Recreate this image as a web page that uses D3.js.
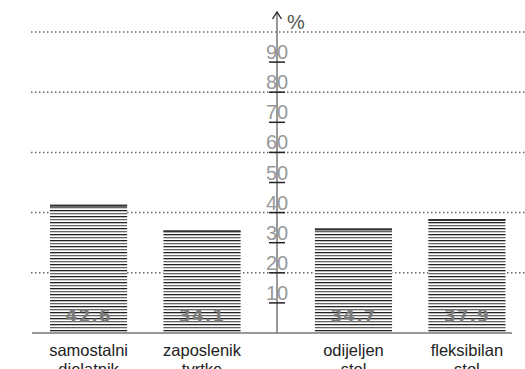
<html>
<head>
<script src="https://d3js.org/d3.v7.min.js"></script>
<style>
body { margin: 0; background: #fff; }
svg { display: block; }
.cat { font-family: "Liberation Sans", Arial, sans-serif; font-size: 16.5px; fill: #222; }
.val { font-family: "DejaVu Sans", sans-serif; font-size: 17px; font-weight: bold; fill: #7a7a7a; letter-spacing: 1px; }
.tick-label { font-family: "Liberation Sans Narrow", "Liberation Sans", sans-serif; font-size: 20px; fill: #999; }
</style>
</head>
<body>
<div id="vis_container"></div>
<script>
// data
var categories = [["samostalni", "djelatnik"], ["zaposlenik", "tvrtke"], ["odijeljen", "stol"], ["fleksibilan", "stol"]];
var values = [42.6, 34.1, 34.7, 37.9];
var valueLabels = ["42.6", "34.1", "34.7", "37.9"];
var tickValues = [10, 20, 30, 40, 50, 60, 70, 80, 90];
var gridValues = [20, 40, 60, 80, 100];

var width = 525, height = 369;
var axisX = 277, gap = 38;

var svg = d3.select("#vis_container").append("svg")
    .attr("width", width)
    .attr("height", height);

var y = d3.scaleLinear().domain([0, 100]).range([333, 32]);
var x = d3.scaleBand()
    .domain(d3.range(categories.length))
    .range([50, 467.5])
    .paddingInner(0.32)
    .paddingOuter(0);

function barX(i) { return x(i) + (i >= 2 ? gap : 0); }

// hatch pattern for the bars
var defs = svg.append("defs");
var pat = defs.append("pattern")
    .attr("id", "hatch")
    .attr("patternUnits", "userSpaceOnUse")
    .attr("width", 8).attr("height", 6);
pat.append("rect").attr("width", 8).attr("height", 6).attr("fill", "#fff");
pat.append("rect").attr("y", 0).attr("width", 8).attr("height", 1.3).attr("fill", "#222");
pat.append("rect").attr("y", 3).attr("width", 8).attr("height", 1.3).attr("fill", "#666");

// dotted gridlines
svg.selectAll("line.grid")
    .data(gridValues)
    .enter().append("line")
    .attr("class", "grid")
    .attr("x1", 31).attr("x2", width)
    .attr("y1", function(d) { return y(d); })
    .attr("y2", function(d) { return y(d); })
    .attr("stroke", "#666")
    .attr("stroke-width", 1.5)
    .attr("stroke-dasharray", "1.5,2.5");

// bars
var bars = svg.selectAll("g.bar")
    .data(values)
    .enter().append("g")
    .attr("class", "bar");

bars.append("rect")
    .attr("x", function(d, i) { return barX(i); })
    .attr("y", function(d) { return y(d); })
    .attr("width", x.bandwidth())
    .attr("height", function(d) { return y(0) - y(d); })
    .attr("fill", "url(#hatch)");

bars.append("line")
    .attr("x1", function(d, i) { return barX(i); })
    .attr("x2", function(d, i) { return barX(i) + x.bandwidth(); })
    .attr("y1", function(d) { return y(d) + 1; })
    .attr("y2", function(d) { return y(d) + 1; })
    .attr("stroke", "#333")
    .attr("stroke-width", 2);

bars.append("text")
    .attr("class", "val")
    .attr("x", function(d, i) { return barX(i) + x.bandwidth() / 2; })
    .attr("y", 322)
    .attr("text-anchor", "middle")
    .text(function(d, i) { return valueLabels[i]; });

// category labels (second line runs off the bottom)
categories.forEach(function(c, i) {
    var t = svg.append("text")
        .attr("class", "cat")
        .attr("text-anchor", "middle")
        .attr("x", barX(i) + x.bandwidth() / 2)
        .attr("y", 356);
    t.append("tspan").text(c[0]);
    t.append("tspan")
        .attr("x", barX(i) + x.bandwidth() / 2)
        .attr("dy", 18.5)
        .text(c[1]);
});

// baseline
svg.append("line")
    .attr("x1", 32).attr("x2", 512)
    .attr("y1", y(0)).attr("y2", y(0))
    .attr("stroke", "#777")
    .attr("stroke-width", 1.5);

// vertical axis with arrow
svg.append("line")
    .attr("x1", axisX).attr("x2", axisX)
    .attr("y1", 12).attr("y2", y(0))
    .attr("stroke", "#777")
    .attr("stroke-width", 1.5);

svg.append("path")
    .attr("d", "M" + (axisX - 4.5) + ",19L" + axisX + ",12L" + (axisX + 4.5) + ",19")
    .attr("fill", "none")
    .attr("stroke", "#222")
    .attr("stroke-width", 1.3);

svg.append("text")
    .attr("x", 287).attr("y", 29)
    .attr("font-family", "Liberation Sans, Arial, sans-serif")
    .attr("font-size", 20)
    .attr("fill", "#555")
    .text("%");

// ticks: short line under each label
var ticks = svg.selectAll("g.tick")
    .data(tickValues)
    .enter().append("g")
    .attr("class", "tick")
    .attr("transform", function(d) { return "translate(" + axisX + "," + y(d) + ")"; });

ticks.append("line")
    .attr("x1", -8).attr("x2", 8)
    .attr("stroke", "#222")
    .attr("stroke-width", 1.5);

ticks.append("text")
    .attr("class", "tick-label")
    .attr("text-anchor", "middle")
    .attr("y", -3)
    .text(function(d) { return d; });
</script>
</body>
</html>
